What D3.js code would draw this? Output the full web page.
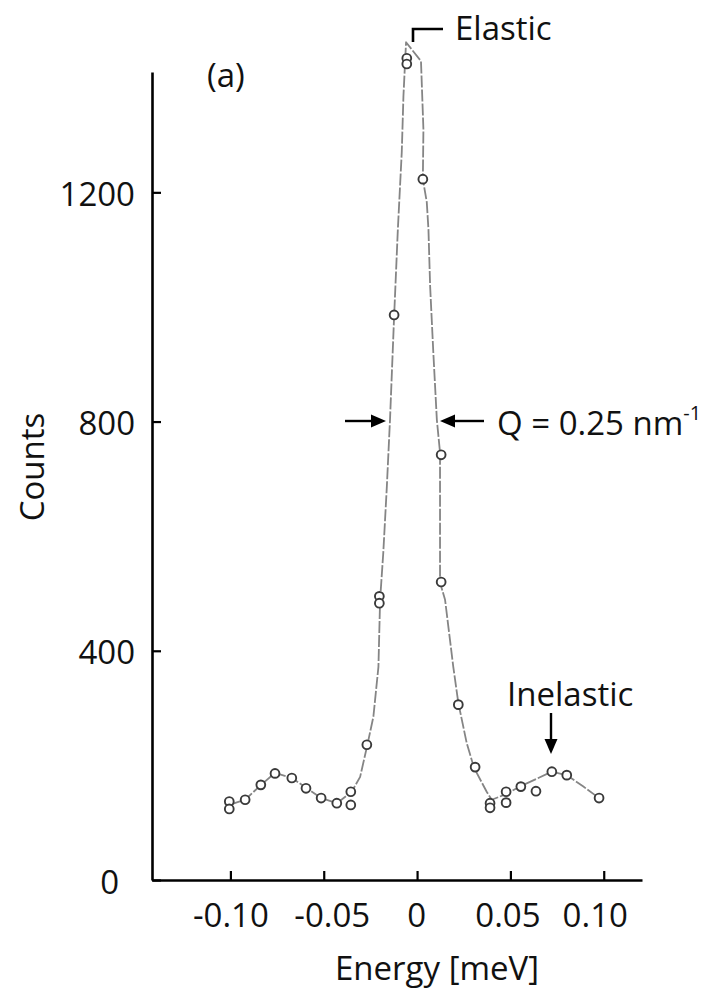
<!DOCTYPE html>
<html>
<head>
<meta charset="utf-8">
<script src="https://cdn.jsdelivr.net/npm/d3@7"></script>
<style>
  body { margin: 0; background: #fff; }
  svg { display: block; }
  text { font-family: "Open Sans", "Noto Sans", sans-serif; fill: #111; }
</style>
</head>
<body>
<div id="chart"></div>
<script>
// measured points (energy in meV, counts)
var pointEnergy = [-0.1006, -0.1006, -0.0921, -0.0837, -0.0761, -0.0671, -0.0595, -0.0514, -0.0430,
    -0.0355, -0.0355, -0.0269, -0.0202, -0.0202, -0.0123, -0.0055, -0.0055, 0.0031,
    0.0129, 0.0129, 0.0221, 0.0311, 0.0391, 0.0391, 0.0477, 0.0477, 0.0556, 0.0637,
    0.0722, 0.0802, 0.0975];
var pointCounts = [137, 124, 140, 166, 186, 178, 160, 143, 134,
    154, 131, 236, 495, 483, 986, 1434, 1424, 1223,
    742, 520, 306, 197, 134, 126, 154, 135, 163, 155,
    189, 183, 143];

// fitted curve
var fitEnergy = [-0.1006, -0.0921, -0.0836, -0.0761, -0.0670, -0.0595, -0.0514, -0.0429, -0.0350,
    -0.0305, -0.0266, -0.0234, -0.0207, -0.0198, -0.0181, -0.0162, -0.0145, -0.0123,
    -0.0103, -0.0082, -0.0073, -0.0059, 0.0021, 0.0034, 0.0031, 0.0052, 0.0061, 0.0070,
    0.0087, 0.0106, 0.0123, 0.0123, 0.0123, 0.0150, 0.0194, 0.0221, 0.0266, 0.0305,
    0.0373, 0.0400, 0.0477, 0.0556, 0.0637, 0.0722, 0.0802, 0.0891, 0.0975];
var fitCounts = [131, 140, 166, 187, 178, 161, 143, 134, 154,
    180, 236, 285, 372, 489, 571, 686, 803, 983,
    1135, 1270, 1368, 1462, 1429, 1310, 1223, 1183, 1135, 1036,
    921, 803, 746, 629, 519, 489, 372, 309, 239, 196,
    154, 140, 150, 164, 176, 189, 183, 163, 143];

var xTicks = [-0.10, -0.05, 0, 0.05, 0.10];
var xTickLabels = ["-0.10", "-0.05", "0", "0.05", "0.10"];
var yTicks = [0, 400, 800, 1200];
var yTickLabels = ["0", "400", "800", "1200"];

var width = 710;
var height = 1003;

var svg = d3
    .select("#chart")
    .append("svg")
    .attr("width", width)
    .attr("height", height);

var x = d3.scaleLinear().domain([-0.142, 0.1205]).range([152, 642]);
var y = d3.scaleLinear().domain([0, 1410]).range([880, 72]);

// axes, ticks pointing inward
var xAxis = d3.axisBottom(x)
    .tickValues(xTicks)
    .tickFormat(function(d, i) { return xTickLabels[i]; })
    .tickSize(-9)
    .tickSizeOuter(0);

var yAxis = d3.axisLeft(y)
    .tickValues(yTicks)
    .tickFormat(function(d, i) { return yTickLabels[i]; })
    .tickSize(-9)
    .tickSizeOuter(0);

var gx = svg.append("g")
    .attr("transform", "translate(0," + y(0) + ")")
    .call(xAxis);

var gy = svg.append("g")
    .attr("transform", "translate(" + x.range()[0] + ",0)")
    .call(yAxis);

// label nudges to match the original lettering
var xNudge = [0, 8, -1, -3, -9];
var yNudge = [-16, 0, 0, 0];

gx.select(".domain").attr("stroke-width", 2.6).attr("stroke", "#000");
gx.selectAll(".tick line").attr("stroke-width", 2.2).attr("stroke", "#000");
gx.selectAll(".tick text")
    .attr("font-size", 33)
    .attr("font-family", "Open Sans")
    .attr("fill", "#111")
    .attr("y", 47)
    .attr("dy", null)
    .attr("x", function(d, i) { return xNudge[i]; });

gy.select(".domain").attr("stroke-width", 2.6).attr("stroke", "#000");
gy.selectAll(".tick line").attr("stroke-width", 2.2).attr("stroke", "#000");
gy.selectAll(".tick text")
    .attr("font-size", 33)
    .attr("font-family", "Open Sans")
    .attr("fill", "#111")
    .attr("x", function(d, i) { return -17 + yNudge[i]; })
    .attr("dy", "0.4em");

// fitted line (straight pieces, like the traced original)
var line = d3.line()
    .x(function(d) { return x(d[0]); })
    .y(function(d) { return y(d[1]); });

var fitData = fitEnergy.map(function(e, i) { return [e, fitCounts[i]]; });

svg.append("path")
    .datum(fitData)
    .attr("d", line)
    .attr("fill", "none")
    .attr("stroke", "#858585")
    .attr("stroke-width", 1.8)
    .attr("stroke-linejoin", "round")
    .attr("stroke-dasharray", "12,2");

// data points
var pts = pointEnergy.map(function(e, i) { return [e, pointCounts[i]]; });

svg.selectAll("circle.pt")
    .data(pts)
    .enter()
    .append("circle")
    .attr("class", "pt")
    .attr("cx", function(d) { return x(d[0]); })
    .attr("cy", function(d) { return y(d[1]); })
    .attr("r", 4.4)
    .attr("fill", "#fff")
    .attr("stroke", "#3a3a3a")
    .attr("stroke-width", 1.9);

// axis titles
svg.append("text")
    .attr("transform", "translate(44," + 467 + ")rotate(-90)")
    .attr("text-anchor", "middle")
    .attr("font-size", 33)
    .text("Counts");

svg.append("text")
    .attr("x", 437)
    .attr("y", 980)
    .attr("text-anchor", "middle")
    .attr("font-size", 33)
    .text("Energy [meV]");

// annotations
svg.append("text")
    .attr("x", 207)
    .attr("y", 87)
    .attr("font-size", 33)
    .text("(a)");

svg.append("path")
    .attr("d", "M413,42V29H443")
    .attr("fill", "none")
    .attr("stroke", "#000")
    .attr("stroke-width", 2.6);

svg.append("text")
    .attr("x", 455)
    .attr("y", 40)
    .attr("font-size", 33)
    .text("Elastic");

var q = svg.append("text")
    .attr("x", 497)
    .attr("y", 435)
    .attr("font-size", 33);
q.append("tspan").text("Q = 0.25 nm");
q.append("tspan")
    .attr("font-size", 20)
    .attr("dy", -15)
    .text("-1");

svg.append("text")
    .attr("x", 507)
    .attr("y", 706)
    .attr("font-size", 33)
    .text("Inelastic");

function arrow(x1, y1, x2, y2) {
    var ang = Math.atan2(y2 - y1, x2 - x1);
    var len = 15, half = 6.5;
    var bx = x2 - len * Math.cos(ang), by = y2 - len * Math.sin(ang);
    svg.append("line")
        .attr("x1", x1).attr("y1", y1)
        .attr("x2", bx).attr("y2", by)
        .attr("stroke", "#000")
        .attr("stroke-width", 2.4);
    var px = -Math.sin(ang) * half, py = Math.cos(ang) * half;
    svg.append("path")
        .attr("d", "M" + x2 + "," + y2 +
            "L" + (bx + px) + "," + (by + py) +
            "L" + (bx - px) + "," + (by - py) + "Z")
        .attr("fill", "#000");
}

arrow(345, 421, 386, 421);
arrow(484, 421, 440, 421);
arrow(551, 713, 551, 754);
</script>
</body>
</html>
